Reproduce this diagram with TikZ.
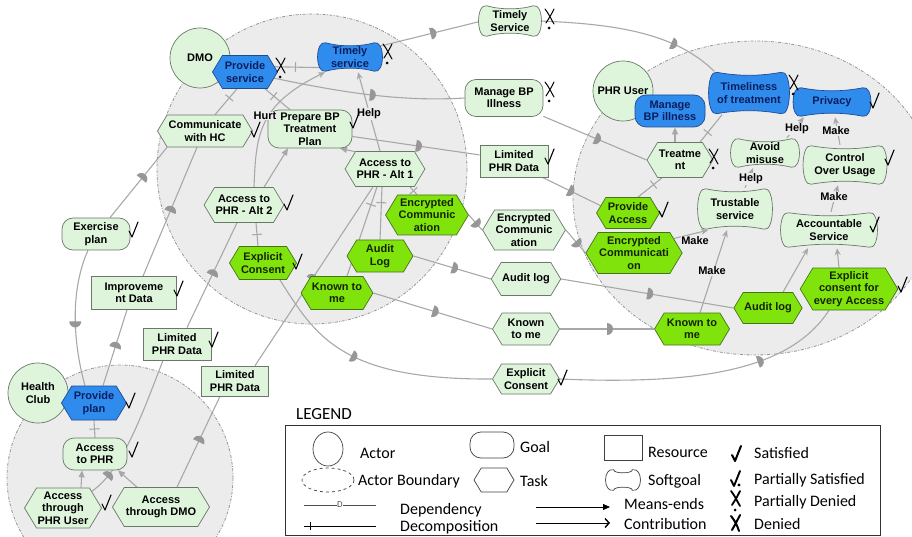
\documentclass[tikz,border=0pt]{standalone}
\usepackage{fontspec}
\setmainfont{Liberation Sans}
\newfontfamily\legfont{Carlito}
\usetikzlibrary{arrows.meta,positioning,shapes.symbols,calc}
\definecolor{mint}{RGB}{222,245,220}
\definecolor{mintline}{RGB}{105,120,105}
\colorlet{minttext}{black}
\definecolor{lime}{RGB}{128,228,12}
\definecolor{limeline}{RGB}{70,115,25}
\definecolor{limetext}{RGB}{20,35,0}
\definecolor{sky}{RGB}{48,140,236}
\definecolor{skyline}{RGB}{30,75,150}
\definecolor{skytext}{RGB}{10,30,95}
\colorlet{whiteline}{black!75}
\colorlet{whitetext}{black}
\definecolor{bnd}{RGB}{236,236,236}
\definecolor{bndline}{RGB}{150,150,150}
\definecolor{lnk}{RGB}{168,168,168}
\pgfdeclarelayer{back}
\pgfdeclarelayer{links}
\pgfdeclarelayer{shapes}
\pgfsetlayers{back,links,shapes,main}
\tikzset{
  elem/.style={font=\fontsize{11}{12.5}\selectfont\bfseries,align=center,inner sep=1pt},
  sz/.style 2 args={minimum width=#1pt,minimum height=#2pt},
  task/.style={elem,signal,signal to=west and east,signal pointer angle=118,
    fill=#1,draw=#1line,text=#1text,line width=.7pt},
  task/.default=mint,
  goal/.style={elem,rectangle,rounded corners=11pt,fill=#1,draw=#1line,text=#1text,line width=.7pt},
  goal/.default=mint,
  res/.style={elem,rectangle,fill=mint,draw=mintline,line width=.7pt},
  soft/.style={elem,rectangle,text=#1text},
  soft/.default=mint,
  actor/.style={elem,circle,fill=mint,draw=mintline,line width=.7pt,minimum size=60pt},
  bound/.style={fill=bnd,draw=bndline,line width=.8pt,dash pattern=on 3pt off 1.5pt on .8pt off 1.5pt},
  link/.style={draw=lnk,line width=1.1pt},
  meansend/.style={link,-{Triangle[length=7pt,width=6pt]}},
  contrib/.style={link,-{Stealth[length=7pt,width=6pt]}},
  lbl/.style={font=\fontsize{11}{12}\selectfont\bfseries,inner sep=.5pt,fill=bnd},
  leg/.style={font=\legfont\fontsize{16}{18}\selectfont,anchor=west,inner sep=0pt},
  % marks and link pictograms
  pics/dmk/.style={code={
    \fill[lnk!90!black] (0,-6) arc[start angle=-90,end angle=90,radius=6] -- cycle;
  }},
  pics/tick/.style={code={\draw[lnk,line width=1.1pt] (0,-5) -- (0,5);}},
  pics/ok/.style={code={
    \draw[black,line width=#1,line cap=round,line join=round] (-4,1) -- (-1,7) -- (5,-8);
  }},
  pics/ok/.default=1.1pt,
  pics/pok/.style={code={
    \draw[black,line width=1.9pt,line cap=round,line join=round] (-4,1) -- (-1,7) -- (5,-8);
    \fill[black] (4,6) circle[radius=1.6];
  }},
  pics/pden/.style={code={
    \draw[black,line width=#1,line cap=round] (-5,-8) .. controls (-1,-3) and (1,2) .. (4,7)
      (4,-8) .. controls (1,-2) .. (-4,6);
    \fill[black] (-1,11) circle[radius=1.5];
  }},
  pics/pden/.default=1pt,
  pics/den/.style={code={
    \draw[black,line width=2pt,line cap=round] (-5,-7) .. controls (-1,-2) and (1,2) .. (3,8)
      (4,-8) .. controls (1,-2) .. (-4,7);
  }},
}
\begin{document}
\begin{tikzpicture}[x=1pt,y=-1pt]
  \useasboundingbox (0,0) rectangle (912,537);
  % actor boundaries
  \begin{pgfonlayer}{back}
    \draw[bound] (312,169) circle[radius=155];
    \draw[bound] (755,198) ellipse[x radius=182,y radius=157];
    \draw[bound] (120,478) circle[radius=113];
  \end{pgfonlayer}
  % actors
  \node[actor] (dmo) at (200,58) {DMO};
  \node[actor] (phr) at (623,91) {PHR User};
  \node[actor] (hc) at (38,393) {Health\\Club};
  % DMO
  \node[task=sky,sz={65}{33}] (ps) at (245,72) {Provide\\service};
  \node[soft=sky,sz={58}{30}] (ts) at (350,57) {Timely\\service};
  \node[task,sz={95}{32}] (chc) at (205,131) {Communicate\\with HC};
  \node[goal,sz={84}{38}] (pbp) at (310,129) {Prepare BP\\Treatment\\Plan};
  \node[task,sz={76}{35}] (alt1) at (385,169) {Access to\\PHR - Alt 1};
  \node[task,sz={75}{35}] (alt2) at (244,205) {Access to\\PHR - Alt 2};
  \node[task=lime,sz={73}{40}] (ecD) at (427,215) {Encrypted\\Communic\\ation};
  \node[task=lime,sz={66}{32}] (alD) at (380,256) {Audit\\Log};
  \node[task=lime,sz={69}{33}] (kmD) at (337,293) {Known to\\me};
  \node[task=lime,sz={67}{33}] (exD) at (263,263) {Explicit\\Consent};
  % dependums
  \node[soft,sz={56}{32}] (dts) at (510,21) {Timely\\Service};
  \node[goal,sz={78}{37}] (dmb) at (504,98) {Manage BP\\Illness};
  \node[res,sz={68}{32}] (dlp) at (514,161) {Limited\\PHR Data};
  \node[task,sz={75}{40}] (dec) at (524,230) {Encrypted\\Communic\\ation};
  \node[task,sz={67}{33}] (dal) at (526,279) {Audit log};
  \node[task,sz={67}{32}] (dkm) at (526,329) {Known\\to me};
  \node[task,sz={67}{30}] (dex) at (526,379) {Explicit\\Consent};
  \node[goal,sz={68}{32}] (dep) at (96,234) {Exercise\\plan};
  \node[res,sz={85}{33}] (did) at (134,293) {Improveme\\nt Data};
  \node[res,sz={68}{32}] (dl1) at (177,344) {Limited\\PHR Data};
  \node[res,sz={67}{30}] (dl2) at (235,381) {Limited\\PHR Data};
  % Health Club
  \node[task=sky,sz={65}{34}] (pp) at (94,403) {Provide\\plan};
  \node[goal,sz={64}{32}] (ap) at (95,454) {Access\\to PHR};
  \node[task,sz={77}{40}] (apu) at (63,508) {Access\\through\\PHR User};
  \node[task,sz={97}{39}] (adm) at (161,507) {Access\\through DMO};
  % PHR User
  \node[goal=sky,sz={70}{32}] (mb) at (670,111) {Manage\\BP illness};
  \node[soft=sky,sz={74}{43}] (tt) at (749,93) {Timeliness\\of treatment};
  \node[soft=sky,sz={71}{30}] (pv) at (832,102) {Privacy};
  \node[task,sz={66}{35}] (tr) at (680,160) {Treatme\\nt};
  \node[soft,sz={62}{30}] (am) at (765,153) {Avoid\\misuse};
  \node[soft,sz={77}{40}] (cu) at (845,165) {Control\\Over Usage};
  \node[soft,sz={68}{42}] (tsv) at (735,209) {Trustable\\service};
  \node[soft,sz={90}{36}] (as) at (829,230) {Accountable\\Service};
  \node[task=lime,sz={63}{31}] (pa) at (628,213) {Provide\\Access};
  \node[task=lime,sz={94}{41}] (ecP) at (634,253) {Encrypted\\Communicati\\on};
  \node[task=lime,sz={75}{32}] (kmP) at (692,329) {Known to\\me};
  \node[task=lime,sz={67}{31}] (alP) at (768,308) {Audit log};
  \node[task=lime,sz={95}{42}] (exP) at (849,289) {Explicit\\consent for\\every Access};
  % contribution labels
  \node[lbl] (hurt) at (265,116) {Hurt};
  \node[lbl] (helpA) at (369,114) {Help};
  \node[lbl] (helpB) at (797,129) {Help};
  \node[lbl] (makeA) at (836,131) {Make};
  \node[lbl] (helpC) at (751,179) {Help};
  \node[lbl] (makeB) at (834,197) {Make};
  \node[lbl] (makeC) at (695,241) {Make};
  \node[lbl] (makeD) at (712,271) {Make};
  % evaluation marks
  \pic at (281,66) {pden};
  \pic at (388,52) {pden};
  \pic at (550,17) {pden};
  \pic at (550,90) {pden};
  \pic at (794,83) {pden};
  \pic at (714,157) {pden};
  \foreach \p in {(255,130),(354,121),(288,203),(297,262),(549,157),(562,378),
    (133,230),(178,289),(213,340),(130,401),(133,450),(106,503),
    (874,101),(889,158),(874,225),(663,210),(902,285)}
    \pic at \p {ok};
  % softgoal outlines
  \node[soft,sz={28}{22}] (lgSoft) at (623,480) {};
  \begin{pgfonlayer}{shapes}
    \foreach \n/\f/\d in {ts/sky/skyline,dts/mint/mintline,tt/sky/skyline,pv/sky/skyline,
      am/mint/mintline,cu/mint/mintline,tsv/mint/mintline,as/mint/mintline,lgSoft/white/whiteline}
      \draw[fill=\f,draw=\d,line width=.7pt]
        ($(\n.north west)+(5,1)$) .. controls ($(\n.north)+(-10,5)$) and ($(\n.north)+(10,5)$) ..
        ($(\n.north east)+(-5,1)$) .. controls ($(\n.north east)+(6,-2)$) and ($(\n.south east)+(6,2)$) ..
        ($(\n.south east)+(-5,-1)$) .. controls ($(\n.south)+(10,-5)$) and ($(\n.south)+(-10,-5)$) ..
        ($(\n.south west)+(5,-1)$) .. controls ($(\n.south west)+(-6,2)$) and ($(\n.north west)+(-6,-2)$) .. cycle;
  \end{pgfonlayer}
  % links
  \begin{pgfonlayer}{links}
    % dependencies
    \draw[link] (ts.20) -- (dts.west) pic[pos=.5,sloped]{dmk};
    \draw[link] (dts.east) .. controls (630,24) and (680,38) .. (tt.148) pic[pos=.65,sloped]{dmk};
    \draw[link] (ps.-12) .. controls (340,92) and (400,102) .. (dmb.west) pic[pos=.5,sloped]{dmk};
    \draw[link] (dmb.-25) -- (tr.west) pic[pos=.5,sloped]{dmk};
    \draw[link] (pbp.-10) -- (dlp.170) pic[pos=.5,sloped]{dmk};
    \draw[link] (dlp.-30) -- (pa.165) pic[pos=.45,sloped]{dmk};
    \draw[link] (ecD.east) -- (dec.west) pic[pos=.45,sloped]{dmk};
    \draw[link] (dec.east) -- (ecP.west) pic[pos=.5,sloped]{dmk};
    \draw[link] (alD.east) -- (dal.west) pic[pos=.5,sloped]{dmk};
    \draw[link] (dal.east) -- (alP.west) pic[pos=.5,sloped]{dmk};
    \draw[link] (kmD.east) -- (dkm.west) pic[pos=.5,sloped]{dmk};
    \draw[link] (dkm.east) -- (kmP.west) pic[pos=.5,sloped]{dmk};
    \draw[link] (exD.-45) .. controls (315,335) and (340,380) .. (dex.west) pic[pos=.55,sloped]{dmk};
    \draw[link] (dex.east) .. controls (700,385) and (790,370) .. ([xshift=-20pt]exP.south) pic[pos=.6,sloped]{dmk};
    \draw[link] ([xshift=-12pt]alt1.south) -- ([xshift=20pt]dl2.north) pic[pos=.52,sloped]{dmk};
    \draw[link] ([xshift=-15pt]dl2.south) -- ([xshift=16pt]adm.north) pic[pos=.5,sloped]{dmk};
    \draw[link] ([xshift=-7pt]alt2.south) -- ([xshift=10pt]dl1.north) pic[pos=.5,sloped]{dmk};
    \draw[link] ([xshift=-14pt]dl1.south) .. controls (140,420) and (122,470) .. (apu.30) pic[pos=.82,sloped]{dmk};
    \draw[link] ([xshift=-8pt]chc.south) -- ([xshift=9pt]did.north) pic[pos=.5,sloped]{dmk};
    \draw[link] ([xshift=-7pt]did.south) -- ([xshift=9pt]pp.north) pic[pos=.5,sloped]{dmk};
    \draw[link] ([xshift=-38pt]chc.south) -- ([xshift=14pt]dep.north) pic[pos=.45,sloped]{dmk};
    \draw[link] ([xshift=-8pt]dep.south) .. controls (68,295) and (75,350) .. ([xshift=-9pt]pp.north) pic[pos=.5,sloped]{dmk};
    % decompositions
    \draw[link] ([xshift=-8pt]ps.south) -- ([xshift=10pt]chc.north) pic[pos=.35,sloped]{tick};
    \draw[link] ([xshift=20pt]ps.south) -- ([xshift=-20pt]pbp.north) pic[pos=.35,sloped]{tick};
    \draw[link] (ps.10) -- (ts.200) pic[pos=.45,sloped]{tick};
    \draw[link] ([xshift=25pt]alt1.south) -- ([xshift=-10pt]ecD.north) pic[pos=.5,sloped]{tick};
    \draw[link] ([xshift=-3pt]alt1.south) -- (alD.north) pic[pos=.3,sloped]{tick};
    \draw[link] ([xshift=-8pt]alt1.south) -- ([xshift=10pt]kmD.north) pic[pos=.2,sloped]{tick};
    \draw[link] ([xshift=12pt]alt2.south) -- ([xshift=-5pt]exD.north) pic[pos=.5,sloped]{tick};
    \draw[link] (pp.south) -- (ap.north) pic[pos=.5,sloped]{tick};
    \draw[link] ([xshift=20pt]tr.north) -- ([xshift=-27pt]tt.south) pic[pos=.35,sloped]{tick};
    \draw[link] ([xshift=-18pt]tr.south) -- ([xshift=10pt]pa.north) pic[pos=.35,sloped]{tick};
    % means-ends
    \draw[meansend] ([xshift=20pt]alt2.north) -- ([xshift=-22pt]pbp.south);
    \draw[meansend] (alt1.150) -- ([xshift=30pt]pbp.south);
    \draw[meansend] ([xshift=18pt]apu.north) -- ([xshift=-13pt]ap.south);
    \draw[meansend] ([xshift=-24pt]adm.north) -- ([xshift=23pt]ap.south);
    \draw[meansend] ([xshift=-5pt]tr.north) -- ([xshift=5pt]mb.south);
    % contributions
    \draw[contrib] ([xshift=10pt]alt2.north) .. controls (256,135) and (258,105) .. ([xshift=-25pt]ts.south);
    \draw[contrib] ([xshift=-5pt]alt1.north) -- ([xshift=8pt]ts.south);
    \draw[contrib] ([xshift=22pt]am.north) -- ([xshift=-28pt]pv.south);
    \draw[contrib] ([xshift=-5pt]cu.north) -- ([xshift=3pt]pv.south);
    \draw[contrib] ([xshift=10pt]tsv.north) -- ([xshift=-12pt]am.south);
    \draw[contrib] ([xshift=2pt]as.north) -- ([xshift=-7pt]cu.south);
    \draw[contrib] (ecP.20) -- ([xshift=-27pt]tsv.south);
    \draw[contrib] ([xshift=8pt]kmP.north) -- ([xshift=-8pt]tsv.south);
    \draw[contrib] ([xshift=15pt]alP.north) -- ([xshift=-21pt]as.south);
    \draw[contrib] ([xshift=-10pt]exP.north) -- ([xshift=8pt]as.south);
  \end{pgfonlayer}
  % legend
  \node[font=\legfont\fontsize{17}{19}\selectfont,inner sep=0pt] (lgTitle) at (324,414) {LEGEND};
  \draw[black!80,line width=.8pt] (285,425) rectangle (880,535);
  \draw[black!75,line width=.7pt] (328,449) ellipse[x radius=15,y radius=17];
  \draw[black!75,line width=.7pt,dashed] (328,480) ellipse[x radius=26,y radius=12];
  \node[goal=white,sz={44}{26}] (lgGoal) at (492,445) {};
  \node[task=white,sz={40}{24}] (lgTask) at (494,480) {};
  \node[draw=black!75,line width=.7pt,sz={38}{25}] (lgRes) at (623,447.5) {};
  \node[leg] (lgActorT) at (360,453) {Actor};
  \node[leg] (lgBoundT) at (358,481) {Actor Boundary};
  \node[leg] (lgGoalT) at (520,447) {Goal};
  \node[leg] (lgTaskT) at (520,481) {Task};
  \node[leg] (lgResT) at (648,452) {Resource};
  \node[leg] (lgSoftT) at (648,481) {Softgoal};
  \node[leg] (lgDepT) at (400,510) {Dependency};
  \node[leg] (lgDecT) at (400,527) {Decomposition};
  \node[leg] (lgMeT) at (624,504) {Means-ends};
  \node[leg] (lgCoT) at (624,524) {Contribution};
  \node[leg] (lgSatT) at (754,453) {Satisfied};
  \node[leg] (lgPsatT) at (754,480) {Partially Satisfied};
  \node[leg] (lgPdenT) at (754,502) {Partially Denied};
  \node[leg] (lgDenT) at (754,524) {Denied};
  \coordinate (lgDa) at (304,505);
  \coordinate (lgDb) at (376,505);
  \coordinate (lgCa) at (304,526);
  \coordinate (lgCb) at (376,526);
  \coordinate (lgMa) at (536,507);
  \coordinate (lgMb) at (610,507);
  \coordinate (lgKa) at (536,523);
  \coordinate (lgKb) at (610,523);
  \draw[black!70,line width=.6pt] (lgDa) -- (lgDb)
    node[pos=.5,fill=white,inner sep=.5pt,font=\legfont\fontsize{9}{9}\selectfont] (lgD) {D};
  \draw[black,line width=.8pt] (lgCa) -- (lgCb);
  \draw[black,line width=.8pt] ([xshift=6pt]lgCa) ++(0,-4) -- ++(0,8);
  \draw[black,line width=.8pt,-{Triangle[length=7pt,width=6pt]}] (lgMa) -- (lgMb);
  \draw[black,line width=.8pt,-{Straight Barb[length=4pt,width=9pt,line width=1.4pt]}] (lgKa) -- (lgKb);
  \pic at (736,454) {ok=2pt};
  \pic at (735,479) {pok};
  \pic at (736,499) {pden=1.8pt};
  \pic at (736,523) {den};
\end{tikzpicture}
\end{document}
